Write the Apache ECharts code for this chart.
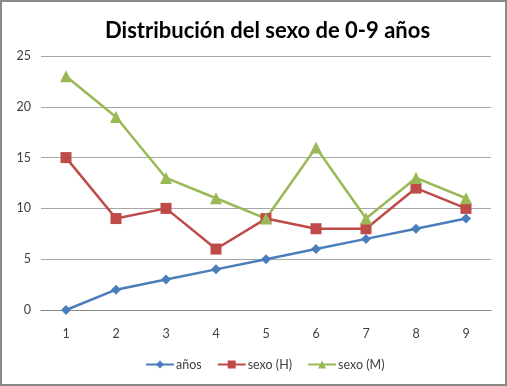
<!DOCTYPE html>
<html><head><meta charset="utf-8">
<script src="https://cdn.jsdelivr.net/npm/echarts@6/dist/echarts.min.js"></script>
<style>html,body{margin:0;padding:0;background:#fff}#c{width:507px;height:386px;box-sizing:border-box;border:2px solid #8a8a8a}</style>
</head><body><div id="c"></div>
<script>
const categories = ['1','2','3','4','5','6','7','8','9'];
const anos = [0,2,3,4,5,6,7,8,9];
const sexoH = [15,9,10,6,9,8,8,12,10];
const sexoM = [23,19,13,11,9,16,9,13,11];
const chart = echarts.init(document.getElementById('c'));
const font = 'Lato, "Open Sans", sans-serif';
chart.setOption({
  animation:false,
  title:{text:'Distribución del sexo de 0-9 años',left:98,top:13,textStyle:{fontFamily:font,fontSize:22,fontWeight:'bold',color:'#000'}},
  grid:{left:39,right:14,top:54,bottom:74},
  legend:{bottom:8,left:138,itemWidth:28,itemHeight:10,itemGap:15,textStyle:{fontFamily:font,fontSize:12.5,color:'#404040',padding:[0,0,0,-3]},
    data:['años','sexo (H)','sexo (M)']},
  xAxis:{type:'category',data:categories,boundaryGap:true,
    axisLine:{lineStyle:{color:'#868686'}},axisTick:{show:false},
    axisLabel:{fontFamily:font,fontSize:12.5,color:'#404040',margin:17}},
  yAxis:{type:'value',min:0,max:25,interval:5,
    axisLine:{show:false},axisTick:{show:false},
    splitLine:{lineStyle:{color:'#a6a6a6'}},
    axisLabel:{fontFamily:font,fontSize:12.5,color:'#404040',margin:10}},
  series:[
    {name:'años',type:'line',data:anos,symbol:'diamond',symbolSize:10,color:'#4A7EBB',lineStyle:{width:2.5}},
    {name:'sexo (H)',type:'line',data:sexoH,symbol:'rect',symbolSize:11,color:'#BE4B48',lineStyle:{width:2.5}},
    {name:'sexo (M)',type:'line',data:sexoM,symbol:'triangle',symbolSize:12,color:'#98B954',lineStyle:{width:2.5}}
  ]
});
</script></body></html>
